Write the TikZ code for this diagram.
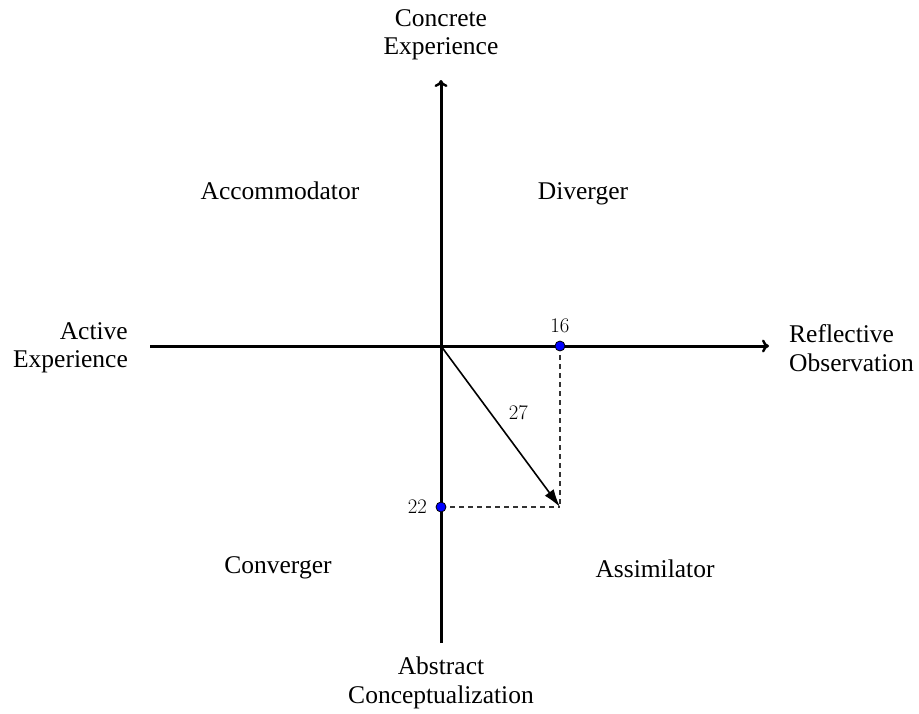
\documentclass[tikz,border=0pt]{standalone}
\usepackage{fontspec}
\setmainfont{Liberation Serif}
\usetikzlibrary{arrows.meta}
\begin{document}
\begin{tikzpicture}[x=1pt,y=-1pt,
  lbl/.style={inner sep=0pt,font=\fontsize{25.5}{28.5}\selectfont},
  num/.style={inner sep=0pt,font=\fontsize{21}{24}\selectfont},
  axis/.style={line width=3pt,-{Computer Modern Rightarrow[length=7pt,width=13pt,line width=2.4pt]}},
  vec/.style={line width=1.6pt,-{Latex[length=18pt,width=11pt]}},
  guide/.style={line width=1.4pt,dash pattern=on 5pt off 4pt,draw=black!80},
  dot/.style={circle,fill=blue,draw=black,line width=0.8pt,inner sep=0pt,minimum size=10pt}]
\useasboundingbox (0,0) rectangle (919,713);
\coordinate (O) at (441,346);
\coordinate (T) at (441,80);
\coordinate (B) at (441,643);
\coordinate (L) at (150,346);
\coordinate (R) at (769,346);
\coordinate (V) at (560,507);
% axes
\draw[axis] (B) -- (T);
\draw[axis] (L) -- (R);
% guides
\draw[guide] (560,346) -- (V);
\draw[guide] (441,507) -- (V);
% vector
\draw[vec] (O) -- (V) node[num,midway,shift={(18pt,14pt)}] (n27) {$27$};
% points
\node[dot] (p16) at (560,346) {};
\node[dot] (p22) at (441,507) {};
\node[num,anchor=south] (n16) at (560,333) {$16$};
\node[num,anchor=east] (n22) at (427,507) {$22$};
% axis labels
\node[lbl,align=center] (ce) at (441,35) {Concrete\\Experience};
\node[lbl,align=center] (ac) at (441,683) {Abstract\\Conceptualization};
\node[lbl,align=right,anchor=east] (ae) at (128,348) {Active\\Experience};
\node[lbl,align=left,anchor=west] (ro) at (789,348) {Reflective\\Observation};
% quadrant labels
\node[lbl,anchor=base] (acc) at (280,199) {Accommodator};
\node[lbl,anchor=base] (div) at (583,199) {Diverger};
\node[lbl,anchor=base] (con) at (278,573) {Converger};
\node[lbl,anchor=base] (asi) at (655,577) {Assimilator};
\end{tikzpicture}
\end{document}
